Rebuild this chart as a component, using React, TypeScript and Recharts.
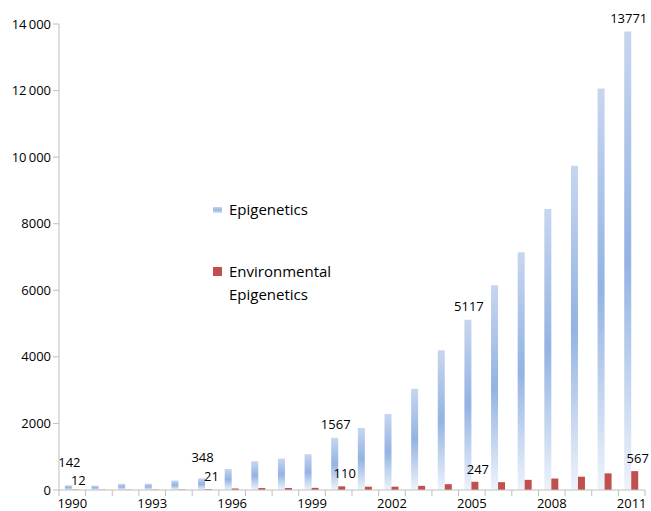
import { Bar, BarChart, LabelList, XAxis, YAxis } from "recharts";

const years = [
  1990, 1991, 1992, 1993, 1994, 1995, 1996, 1997, 1998, 1999, 2000, 2001,
  2002, 2003, 2004, 2005, 2006, 2007, 2008, 2009, 2010, 2011,
];
const epigenetics = [
  142, 130, 185, 190, 285, 348, 630, 860, 945, 1075, 1567, 1865, 2285, 3040,
  4200, 5117, 6150, 7140, 8440, 9740, 12060, 13771,
];
const environmental = [
  12, 8, 10, 10, 14, 21, 45, 58, 60, 65, 110, 100, 100, 125, 175, 247, 235,
  305, 345, 400, 500, 567,
];
const labelledYears = [1990, 1995, 2000, 2005, 2011];
const yTicks = [0, 2000, 4000, 6000, 8000, 10000, 12000, 14000];

const data = years.map((year, i) => ({
  year,
  epi: epigenetics[i],
  env: environmental[i],
  epiLabel: labelledYears.includes(year) ? epigenetics[i] : null,
  envLabel: labelledYears.includes(year) ? environmental[i] : null,
}));

const W = 651;
const H = 511;
const LEFT = 59;
const RIGHT = 6;
const BAND = (W - LEFT - RIGHT) / years.length;
const FONT = "'Open Sans', sans-serif";
const AXIS = "#bfbfbf";
const RED = "#c0504d";

const fmtY = (v: number) =>
  v >= 10000 ? `${Math.floor(v / 1000)}\u2009000` : `${v}`;

// excel-style ticks: marks between categories, label every third year
const XTick = (props: any) => {
  const { x, y, payload, index } = props;
  const showText = index % 3 === 0;
  return (
    <g>
      <line x1={x - BAND / 2} x2={x - BAND / 2} y1={y - 8} y2={y - 2} stroke={AXIS} />
      {index === years.length - 1 && (
        <line x1={x + BAND / 2} x2={x + BAND / 2} y1={y - 8} y2={y - 2} stroke={AXIS} />
      )}
      {showText && (
        <text x={x} y={y + 10} textAnchor="middle" fontSize={13} fontFamily={FONT} fill="#000">
          {payload.value}
        </text>
      )}
    </g>
  );
};

const makeLabel = (lift: (i: number) => number, dx: number) => (props: any) => {
  const { x, y, width, value, index } = props;
  if (value === null || value === undefined) return null;
  return (
    <text
      x={Number(x) + Number(width) / 2 + dx}
      y={Number(y) - lift(index)}
      textAnchor="middle"
      dominantBaseline="central"
      fontSize={13}
      fontFamily={FONT}
      fill="#000"
    >
      {value}
    </text>
  );
};

const LegendBox = () => (
  <div
    style={{
      position: "absolute",
      left: 213,
      top: 198,
      fontFamily: FONT,
      fontSize: 15,
      color: "#000",
      lineHeight: "23px",
    }}
  >
    <div style={{ display: "flex", alignItems: "center" }}>
      <span
        style={{
          display: "inline-block",
          width: 9,
          height: 6,
          background: "linear-gradient(#c6d5ee, #9ab7e3, #dbe5f5)",
          marginRight: 7,
        }}
      />
      Epigenetics
    </div>
    <div style={{ display: "flex", alignItems: "flex-start", marginTop: 39 }}>
      <span
        style={{
          display: "inline-block",
          width: 9,
          height: 9,
          background: RED,
          marginRight: 7,
          marginTop: 7,
        }}
      />
      <span>
        Environmental
        <br />
        Epigenetics
      </span>
    </div>
  </div>
);

export default function App() {
  return (
    <div style={{ position: "absolute", left: 0, top: 0, width: W, height: H, background: "#fff" }}>
      <BarChart
        width={W}
        height={H}
        data={data}
        margin={{ top: 24, right: RIGHT, bottom: 0, left: 0 }}
        barCategoryGap="22%"
        barGap={0}
      >
        <defs>
          <linearGradient id="epiGrad" x1="0" y1="0" x2="0" y2="1">
            <stop offset="0%" stopColor="#c7d6ef" />
            <stop offset="50%" stopColor="#93b3e2" />
            <stop offset="100%" stopColor="#eef3fb" />
          </linearGradient>
        </defs>
        <XAxis
          dataKey="year"
          interval={0}
          height={21}
          axisLine={{ stroke: AXIS }}
          tickLine={false}
          tick={<XTick />}
        />
        <YAxis
          width={LEFT}
          domain={[0, 14000]}
          ticks={yTicks}
          tickFormatter={fmtY}
          axisLine={{ stroke: AXIS }}
          tickLine={{ stroke: AXIS }}
          tickSize={6}
          tick={{ fontSize: 13, fontFamily: FONT, fill: "#000" }}
          interval={0}
        />
        <Bar dataKey="epi" name="Epigenetics" fill="url(#epiGrad)" isAnimationActive={false}>
          <LabelList
            dataKey="epiLabel"
            content={makeLabel((i) => (i === 0 ? 23 : i === 5 ? 21 : 14), 1)}
          />
        </Bar>
        <Bar dataKey="env" name="Environmental Epigenetics" fill={RED} isAnimationActive={false}>
          <LabelList dataKey="envLabel" content={makeLabel((i) => (i === 0 ? 10 : 13), 3)} />
        </Bar>
      </BarChart>
      <LegendBox />
    </div>
  );
}
